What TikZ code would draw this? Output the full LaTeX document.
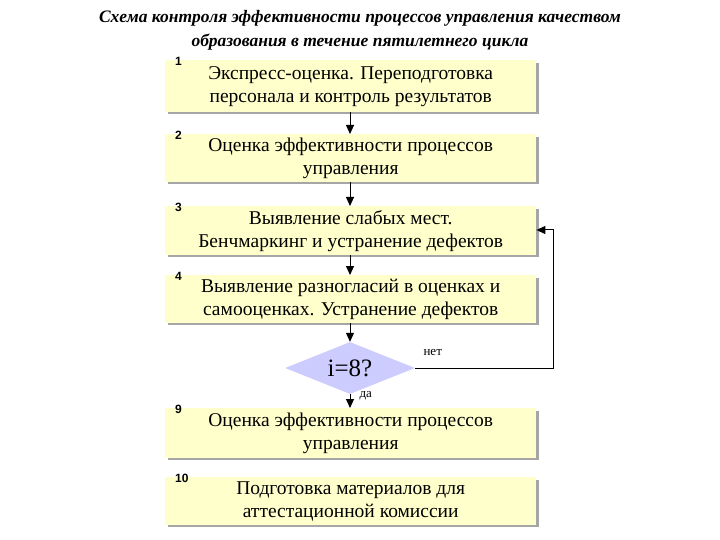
\documentclass[tikz,border=0pt]{standalone}
\usepackage{fontspec}
\setmainfont{Liberation Serif}
\newfontfamily\numfont{Liberation Sans}
\usetikzlibrary{shapes.geometric,arrows.meta}
\begin{document}
\begin{tikzpicture}[x=1pt,y=-1pt,
  box/.style={fill={rgb,255:red,255;green,255;blue,204},draw=none,minimum width=371pt,anchor=north west,inner sep=0pt,align=center,font=\fontsize{19.5}{23}\selectfont},
  shad/.style={fill=gray!70},
  num/.style={font=\numfont\bfseries\fontsize{12}{13}\selectfont,anchor=south west,inner sep=1pt},
  arr/.style={-{Triangle[length=9pt,width=8pt]},line width=1pt}]
\useasboundingbox (0,0) rectangle (720,540);
\node[font=\bfseries\itshape\fontsize{17.5}{24}\selectfont,align=center] (title) at (360,30) {Схема контроля эффективности процессов управления качеством\\образования в течение пятилетнего цикла};
\foreach \n/\t/\b in {b1/60/112,b2/134/182,b3/206/255,b4/275/323,b9/408/458,b10/477/525}{
  \fill[shad] (168,\t+3) rectangle (539,\b+2);
}
\node[box,minimum height=52pt] (b1) at (165,60) {Экспресс-оценка. Переподготовка\\персонала и контроль результатов};
\node[box,minimum height=48pt] (b2) at (165,134) {Оценка эффективности процессов\\управления};
\node[box,minimum height=49pt] (b3) at (165,206) {Выявление слабых мест.\\Бенчмаркинг и устранение дефектов};
\node[box,minimum height=48pt] (b4) at (165,275) {Выявление разногласий в оценках и\\самооценках. Устранение дефектов};
\node[diamond,fill={rgb,255:red,204;green,204;blue,255},minimum width=130pt,minimum height=52pt,inner sep=0pt,aspect=2.5,font=\fontsize{25}{27}\selectfont] (d) at (350,368) {i=8?};
\node[box,minimum height=50pt] (b9) at (165,408) {Оценка эффективности процессов\\управления};
\node[box,minimum height=48pt] (b10) at (165,477) {Подготовка материалов для\\аттестационной комиссии};
\node[num] (n1) at (174,67) {1};
\node[num] (n2) at (174,141) {2};
\node[num] (n3) at (174,213) {3};
\node[num] (n4) at (174,282) {4};
\node[num] (n9) at (174,415) {9};
\node[num] (n10) at (174,484) {10};
\draw[arr] (b1.south -| 350,0) -- (b2.north -| 350,0);
\draw[arr] (b2.south -| 350,0) -- (b3.north -| 350,0);
\draw[arr] (b3.south -| 350,0) -- (b4.north -| 350,0);
\draw[arr] (b4.south -| 350,0) -- (d.north);
\draw[arr] (d.south) -- (b9.north -| 350,0);
\draw[arr] (d.east) -- (553,368) -- (553,230) -- (b3.east |- 0,230);
\node[font=\fontsize{13}{15}\selectfont,anchor=west] (no) at (420,352) {нет};
\node[font=\fontsize{13}{15}\selectfont,anchor=west] (yes) at (356,396) {да};
\end{tikzpicture}
\end{document}
